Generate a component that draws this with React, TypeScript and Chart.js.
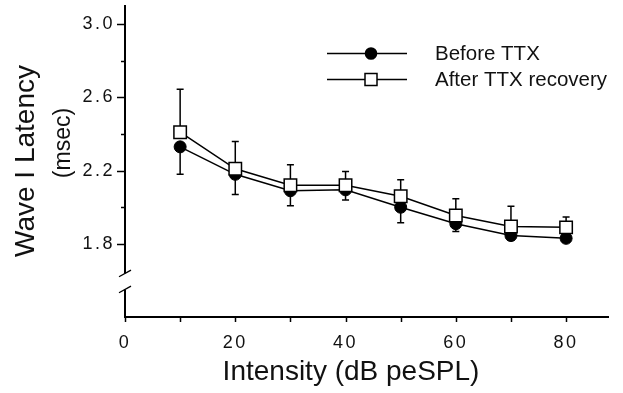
import { useEffect, useRef } from 'react';
import { Chart, registerables } from 'chart.js';

Chart.register(...registerables);

// ---- data ----
const intensities = [10, 20, 30, 40, 50, 60, 70, 80];
const beforeTTX = [2.33, 2.18, 2.09, 2.095, 2.0, 1.91, 1.845, 1.83];
const beforeLower = [2.18, 2.07, 2.008, 2.04, 1.915, 1.867, 1.82, 1.81];
const afterTTX = [2.41, 2.21, 2.12, 2.12, 2.06, 1.955, 1.895, 1.89];
const afterUpper = [2.645, 2.36, 2.232, 2.195, 2.15, 2.046, 2.005, 1.946];

const xTickValues = [0, 10, 20, 30, 40, 50, 60, 70, 80];
const xTickLabels = ['0', '20', '40', '60', '80'];
const yTickValues = [1.8, 2.0, 2.2, 2.4, 2.6, 2.8, 3.0];
const yTickLabels = ['1.8', '2.2', '2.6', '3.0'];
const yBreakValue = 1.6;

const seriesNames = ['Before TTX', 'After TTX recovery'];
const xTitle = 'Intensity (dB peSPL)';
const yTitle = ['Wave I Latency', '(msec)'];

const FONT = '"Liberation Sans", Arial, Helvetica, sans-serif';

const decorPlugin = {
  id: 'decor',
  beforeDraw(chart: any) {
    chart.ctx.letterSpacing = '2.5px';
  },
  beforeDatasetsDraw(chart: any) {
    const ctx = chart.ctx;
    ctx.letterSpacing = '0px';
    const xs = chart.scales.x;
    const ys = chart.scales.y;
    const area = chart.chartArea;
    ctx.save();
    ctx.strokeStyle = '#000';
    ctx.lineWidth = 1.5;
    // x ticks
    xs.ticks.forEach((t: any) => {
      const px = Math.round(xs.getPixelForValue(t.value)) + 0.5;
      ctx.beginPath();
      ctx.moveTo(px, area.bottom);
      ctx.lineTo(px, area.bottom + 5);
      ctx.stroke();
    });
    // y ticks
    ys.ticks.forEach((t: any) => {
      const py = Math.round(ys.getPixelForValue(t.value)) + 0.5;
      const major = yTickLabels.includes(Number(t.value).toFixed(1));
      const len = major ? 8 : 4;
      ctx.beginPath();
      ctx.moveTo(area.left - len, py);
      ctx.lineTo(area.left, py);
      ctx.stroke();
    });
    // axis break
    const by = ys.getPixelForValue(yBreakValue);
    const y1 = by - 7;
    const y2 = by + 9;
    ctx.fillStyle = '#fff';
    ctx.fillRect(area.left - 3, y1, 6, y2 - y1);
    ctx.lineWidth = 1.3;
    [y1, y2].forEach((yy) => {
      ctx.beginPath();
      ctx.moveTo(area.left - 6, yy + 3.3);
      ctx.lineTo(area.left + 6, yy - 3.3);
      ctx.stroke();
    });
    // error bars
    ctx.lineWidth = 1.5;
    const cap = 3.5;
    intensities.forEach((xv, i) => {
      const px = xs.getPixelForValue(xv);
      const drawBar = (from: number, to: number) => {
        const p1 = ys.getPixelForValue(from);
        const p2 = ys.getPixelForValue(to);
        ctx.beginPath();
        ctx.moveTo(px, p1);
        ctx.lineTo(px, p2);
        ctx.moveTo(px - cap, p2);
        ctx.lineTo(px + cap, p2);
        ctx.stroke();
      };
      drawBar(beforeTTX[i], beforeLower[i]);
      drawBar(afterTTX[i], afterUpper[i]);
    });
    ctx.restore();
  },
  afterDraw(chart: any) {
    const ctx = chart.ctx;
    ctx.save();
    ctx.letterSpacing = '0px';
    ctx.fillStyle = '#111';
    // axis titles
    ctx.font = `28px ${FONT}`;
    ctx.textAlign = 'center';
    ctx.textBaseline = 'alphabetic';
    ctx.fillText(xTitle, 351, 380);
    ctx.save();
    ctx.translate(34, 161);
    ctx.rotate(-Math.PI / 2);
    ctx.fillText(yTitle[0], 0, 0);
    ctx.restore();
    ctx.save();
    ctx.translate(70, 143);
    ctx.rotate(-Math.PI / 2);
    ctx.font = `23px ${FONT}`;
    ctx.fillText(yTitle[1], 0, 0);
    ctx.restore();
    // legend
    const lx1 = 327;
    const lx2 = 407;
    const mx = 371;
    const rows = [53.5, 79.5];
    ctx.strokeStyle = '#000';
    ctx.lineWidth = 1.5;
    rows.forEach((ry, i) => {
      ctx.beginPath();
      ctx.moveTo(lx1, ry);
      ctx.lineTo(lx2, ry);
      ctx.stroke();
      if (i === 0) {
        ctx.beginPath();
        ctx.arc(mx, ry, 6.3, 0, Math.PI * 2);
        ctx.fillStyle = '#000';
        ctx.fill();
      } else {
        ctx.fillStyle = '#fff';
        ctx.fillRect(mx - 6, ry - 6, 12, 12);
        ctx.strokeRect(mx - 6, ry - 6, 12, 12);
      }
      ctx.fillStyle = '#111';
      ctx.font = `20.5px ${FONT}`;
      ctx.textAlign = 'left';
      ctx.textBaseline = 'middle';
      ctx.fillText(seriesNames[i], 435, ry + 1);
    });
    ctx.restore();
  },
};

export default function App() {
  const canvasRef = useRef<HTMLCanvasElement | null>(null);

  useEffect(() => {
    document.body.style.margin = '0';
    const canvas = canvasRef.current;
    if (!canvas) return;
    const chart = new Chart(canvas, {
      type: 'line',
      data: {
        datasets: [
          {
            label: seriesNames[1],
            data: intensities.map((x, i) => ({ x, y: afterTTX[i] })),
            borderColor: '#000',
            borderWidth: 1.5,
            pointStyle: 'rect',
            pointRadius: 8.8,
            pointBackgroundColor: '#fff',
            pointBorderColor: '#000',
            pointBorderWidth: 1.5,
            tension: 0,
          },
          {
            label: seriesNames[0],
            data: intensities.map((x, i) => ({ x, y: beforeTTX[i] })),
            borderColor: '#000',
            borderWidth: 1.5,
            pointStyle: 'circle',
            pointRadius: 6,
            pointBackgroundColor: '#000',
            pointBorderColor: '#000',
            pointBorderWidth: 1,
            tension: 0,
          },
        ],
      },
      options: {
        animation: false,
        responsive: true,
        maintainAspectRatio: false,
        layout: { autoPadding: false, padding: { top: 6, right: 15, left: 0, bottom: 0 } },
        plugins: { legend: { display: false }, tooltip: { enabled: false } },
        scales: {
          x: {
            type: 'linear',
            min: 0,
            max: 87.6,
            afterBuildTicks: (axis: any) => {
              axis.ticks = xTickValues.map((v) => ({ value: v }));
            },
            afterFit: (axis: any) => {
              axis.height = 76;
              axis.paddingLeft = 0;
              axis.paddingRight = 0;
            },
            grid: { display: false },
            border: { display: true, color: '#000', width: 2 },
            ticks: {
              autoSkip: false,
              maxRotation: 0,
              padding: 7,
              color: '#111',
              font: { family: FONT, size: 18 },
              callback: (v: any) => (xTickLabels.includes(String(v)) ? String(v) : ''),
            },
          },
          y: {
            type: 'linear',
            min: 1.4,
            max: 3.1,
            afterBuildTicks: (axis: any) => {
              axis.ticks = yTickValues.map((v) => ({ value: v }));
            },
            afterFit: (axis: any) => {
              axis.width = 125;
              axis.paddingTop = 0;
              axis.paddingBottom = 0;
            },
            grid: { display: false },
            border: { display: true, color: '#000', width: 2 },
            ticks: {
              autoSkip: false,
              padding: 2,
              color: '#111',
              font: { family: FONT, size: 18 },
              callback: (v: any) => {
                const s = Number(v).toFixed(1);
                return yTickLabels.includes(s) ? s : '';
              },
            },
          },
        },
      },
      plugins: [decorPlugin],
    });
    return () => chart.destroy();
  }, []);

  return (
    <div style={{ width: 623, height: 393, position: 'relative' }}>
      <canvas ref={canvasRef} />
    </div>
  );
}
